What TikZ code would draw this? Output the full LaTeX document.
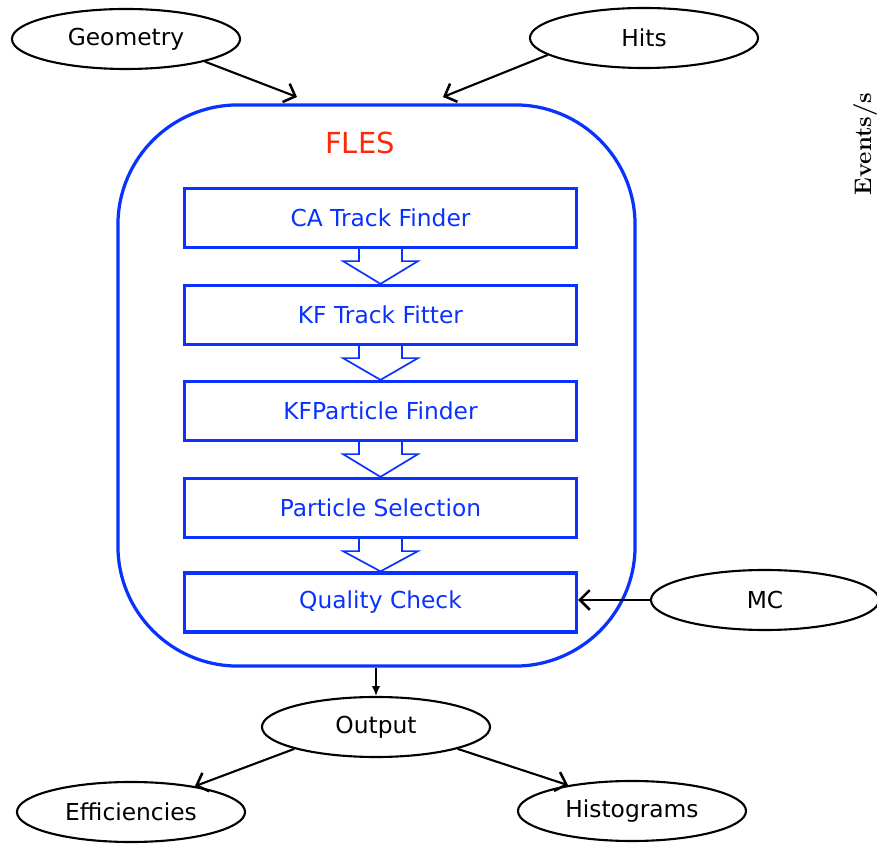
\documentclass[tikz,border=0pt]{standalone}
\usepackage{fontspec}
\setsansfont{DejaVu Sans}
\usepackage{tikz}
\usetikzlibrary{calc,arrows.meta,shapes.geometric}

\definecolor{flesblue}{RGB}{10,50,255}
\definecolor{flesred}{RGB}{255,40,10}

\tikzset{
  io/.style={draw, ellipse, line width=1.5pt, inner sep=0pt,
    minimum width=5.7cm, minimum height=1.5cm,
    font=\sffamily\fontsize{16.6}{19}\selectfont},
  stage/.style={draw=flesblue, line width=2.3pt, inner sep=0pt,
    minimum width=9.8cm, minimum height=1.475cm, text=flesblue,
    font=\sffamily\fontsize{16.6}{19}\selectfont},
  feed/.style={line width=1.5pt, -{Straight Barb[length=7pt,width=14pt,line width=1.8pt]}},
  pass/.style={draw=flesblue, line width=1.2pt, fill=white}
}

\begin{document}
\begin{tikzpicture}[x=0.025cm, y=-0.025cm]

\useasboundingbox (0, 0) rectangle (877, 845);

% inputs
\node (geo) at (126, 39)[io]{Geometry};
\node (hits) at (644, 38)[io]{Hits};
\node (mc) at (765, 600)[io]{MC};

\coordinate (geoin) at (297, 97);
\coordinate (hitsin) at (443, 97);

% the FLES chain
\node (fles) at (376.5, 385.5)[draw=flesblue, line width=2.3pt, rounded corners=3cm,
  minimum width=12.925cm, minimum height=14.025cm]{};
\node (flestitle) at (360, 143)[text=flesred, font=\sffamily\fontsize{20.6}{24}\selectfont]{FLES};

\node (ca) at (380.5, 218)[stage]{CA Track Finder};
\node (kf) at (380.5, 315)[stage]{KF Track Fitter};
\node (kfp) at (380.5, 411)[stage]{KFParticle Finder};
\node (sel) at (380.5, 508)[stage]{Particle Selection};
\node (qc) at (380.5, 602.5)[stage]{Quality Check};

\foreach \a/\b in {ca/kf, kf/kfp, kfp/sel, sel/qc}
  \draw[pass] ($(\a.south)+(-21.5, 0)$) -- ($(\a.south)+(-21.5, 12)$)
    -- ($(\a.south)+(-37.5, 12)$) -- (\b.north)
    -- ($(\a.south)+(37.5, 12)$) -- ($(\a.south)+(21.5, 12)$)
    -- ($(\a.south)+(21.5, 0)$);

% outputs
\node (out) at (376, 727)[io]{Output};
\node (eff) at (131, 812)[io]{Efficiencies};
\node (hist) at (632, 811)[io]{Histograms};

\node (evs) at (866, 144)[rotate=90, font=\rmfamily\bfseries\fontsize{17}{20}\selectfont]{Events/s};

\draw[feed] (geo.-16) -- (geoin);
\draw[feed] (hits.190) -- (hitsin);
\draw[feed] (mc.west) -- (mc.west -| qc.east);
\draw[line width=1.2pt, -{Latex[length=7pt,width=6pt]}] (out.north |- fles.south) -- (out.north);
\draw[feed] (out.195) -- (eff.22);
\draw[feed] (out.-15) -- (hist.158);

\end{tikzpicture}
\end{document}
